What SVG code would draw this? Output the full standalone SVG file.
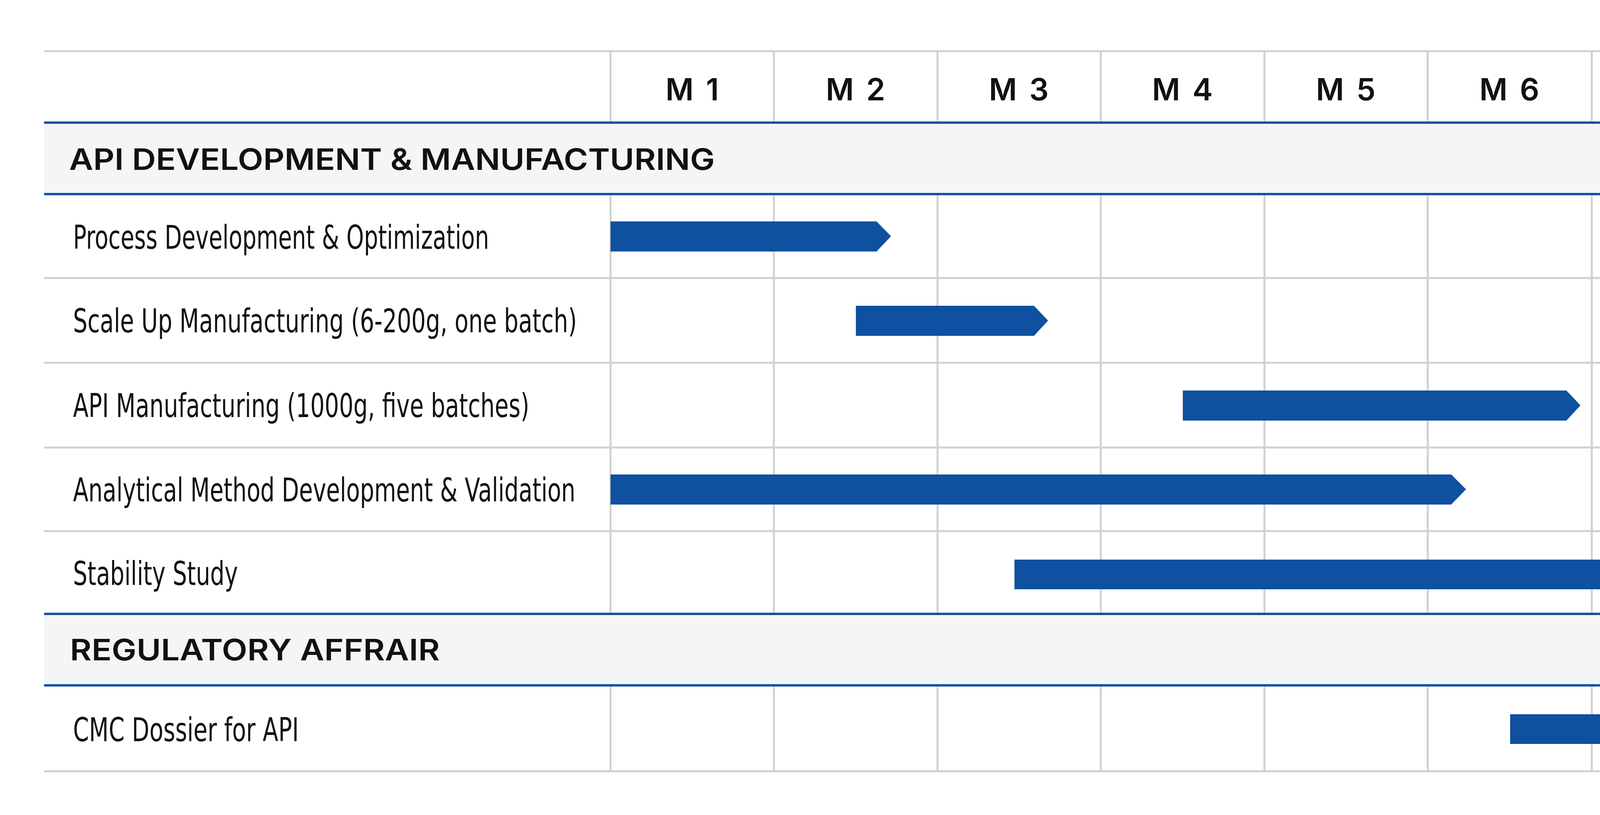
<svg xmlns="http://www.w3.org/2000/svg" width="5000" height="2087" viewBox="0 0 5000 2087">
<style>
.g{stroke:#d0d0d0;stroke-width:5}
.b{stroke:#1450a3;stroke-width:6}
.band{fill:#f4f5f7}
.bar{fill:#0f50a0}
.m{font-family:Inter,"Liberation Sans",sans-serif;font-weight:600;font-size:78px;fill:#111;text-anchor:middle;letter-spacing:6px}
.s{font-family:Inter,"Liberation Sans",sans-serif;font-weight:600;font-size:76px;fill:#111}
.l{font-family:"DejaVu Sans Condensed","Liberation Sans",sans-serif;font-size:84px;fill:#111}
</style>
<rect width="5000" height="2087" fill="#fff"/>
<g id="grid">
<line class="g" x1="113" y1="131" x2="4912" y2="131"/>
<line class="g" x1="113" y1="712" x2="4912" y2="712"/>
<line class="g" x1="113" y1="929" x2="4912" y2="929"/>
<line class="g" x1="113" y1="1146" x2="4912" y2="1146"/>
<line class="g" x1="113" y1="1360" x2="4912" y2="1360"/>
<line class="g" x1="113" y1="1975" x2="4912" y2="1975"/>
<g class="g">
<line x1="1563" y1="131" x2="1563" y2="1975"/><line x1="1981" y1="131" x2="1981" y2="1975"/>
<line x1="2400" y1="131" x2="2400" y2="1975"/><line x1="2818" y1="131" x2="2818" y2="1975"/>
<line x1="3237" y1="131" x2="3237" y2="1975"/><line x1="3655" y1="131" x2="3655" y2="1975"/>
<line x1="4075" y1="131" x2="4075" y2="1975"/><line x1="4492" y1="131" x2="4492" y2="1975"/>
</g>
</g>
<g id="header">
<text class="m" x="1775" y="257">M 1</text><text class="m" x="2193" y="257">M 2</text>
<text class="m" x="2611" y="257">M 3</text><text class="m" x="3030" y="257">M 4</text>
<text class="m" x="3448" y="257">M 5</text><text class="m" x="3867" y="257">M 6</text>
<text class="m" x="4284" y="257">M7</text><text class="m" x="4704" y="257">M 8</text>
</g>
<g id="section1">
<rect class="band" x="113" y="314" width="4799" height="183"/>
<line class="b" x1="113" y1="314" x2="4912" y2="314"/><line class="b" x1="113" y1="497" x2="4912" y2="497"/>
<text class="s" x="177" y="435" textLength="1653" lengthAdjust="spacingAndGlyphs">API DEVELOPMENT &amp; MANUFACTURING</text>
</g>
<g id="section2">
<rect class="band" x="113" y="1572" width="4799" height="183"/>
<line class="b" x1="113" y1="1572" x2="4912" y2="1572"/><line class="b" x1="113" y1="1755" x2="4912" y2="1755"/>
<text class="s" x="179" y="1691" textLength="947" lengthAdjust="spacingAndGlyphs">REGULATORY AFFRAIR</text>
</g>
<g id="row1"><text class="l" x="187" y="637" textLength="1065" lengthAdjust="spacingAndGlyphs">Process Development &amp; Optimization</text>
<polygon class="bar" points="1563,567 2244,567 2281,605 2244,644 1563,644"/></g>
<g id="row2"><text class="l" x="187" y="851" textLength="1290" lengthAdjust="spacingAndGlyphs">Scale Up Manufacturing (6-200g, one batch)</text>
<polygon class="bar" points="2191,783 2647,783 2683,821 2647,860 2191,860"/></g>
<g id="row3"><text class="l" x="187" y="1068" textLength="1168" lengthAdjust="spacingAndGlyphs">API Manufacturing (1000g, five batches)</text>
<polygon class="bar" points="3028,1000 4010,1000 4046,1038 4010,1077 3028,1077"/></g>
<g id="row4"><text class="l" x="187" y="1284" textLength="1286" lengthAdjust="spacingAndGlyphs">Analytical Method Development &amp; Validation</text>
<polygon class="bar" points="1563,1215 3715,1215 3753,1253 3715,1292 1563,1292"/></g>
<g id="row5"><text class="l" x="187" y="1498" textLength="422" lengthAdjust="spacingAndGlyphs">Stability Study</text>
<polygon class="bar" points="2597,1433 4749,1433 4788,1471 4749,1509 2597,1509"/></g>
<g id="row6"><text class="l" x="187" y="1898" textLength="578" lengthAdjust="spacingAndGlyphs">CMC Dossier for API</text>
<polygon class="bar" points="3866,1829 4766,1829 4802,1867 4766,1905 3866,1905"/></g>
</svg>
